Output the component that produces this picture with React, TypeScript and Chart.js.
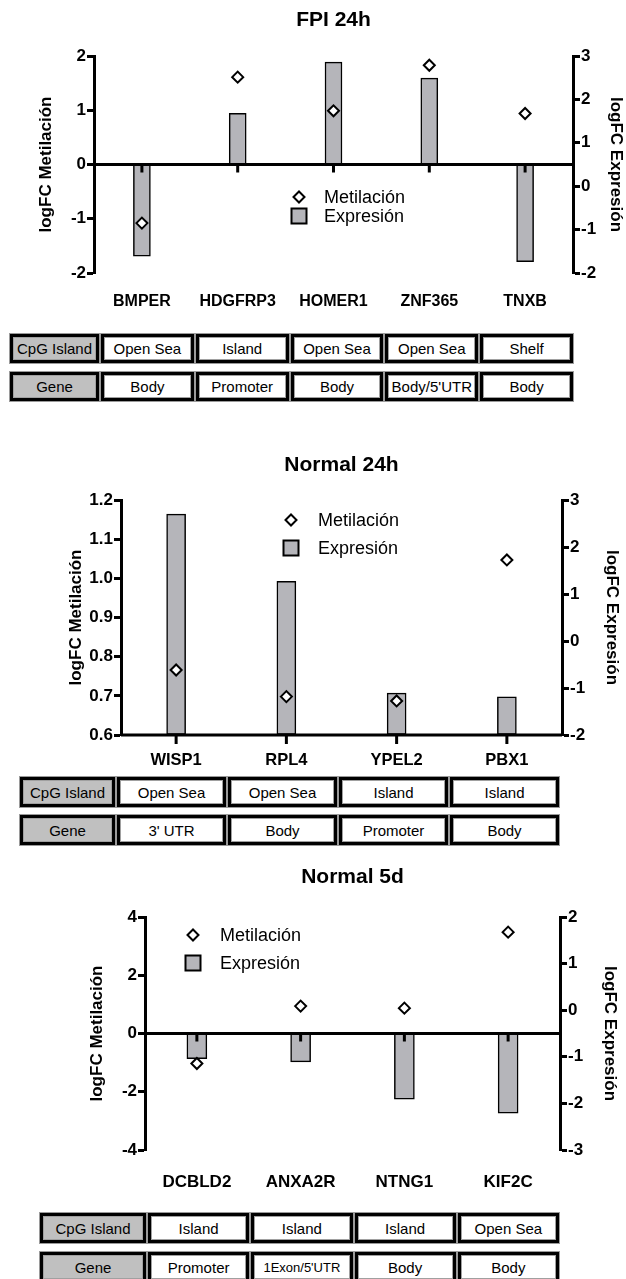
import React, { useEffect, useRef } from 'react';
import { Chart, registerables } from 'chart.js';

Chart.register(...registerables);

const FONT = '"Liberation Sans", Arial, Helvetica, sans-serif';
const BAR_FILL = '#b5b5ba';

// ---- FPI 24h ----
const fpiGenes = ['BMPER', 'HDGFRP3', 'HOMER1', 'ZNF365', 'TNXB'];
const fpiMetilacion = [-1.08, 1.61, 0.99, 1.83, 0.94];
const fpiExpresion = [-1.61, 1.68, 2.86, 2.49, -1.74];
const fpiMetTicks = [-2, -1, 0, 1, 2];
const fpiExpTicks = [-2, -1, 0, 1, 2, 3];
const fpiCpG = ['Open Sea', 'Island', 'Open Sea', 'Open Sea', 'Shelf'];
const fpiRegion = ['Body', 'Promoter', 'Body', "Body/5'UTR", 'Body'];

// ---- Normal 24h ----
const n24Genes = ['WISP1', 'RPL4', 'YPEL2', 'PBX1'];
const n24Metilacion = [0.766, 0.698, 0.687, 1.047];
const n24Expresion = [2.7, 1.27, -1.11, -1.19];
const n24MetTicks = [0.6, 0.7, 0.8, 0.9, 1.0, 1.1, 1.2];
const n24ExpTicks = [-2, -1, 0, 1, 2, 3];
const n24CpG = ['Open Sea', 'Open Sea', 'Island', 'Island'];
const n24Region = ["3' UTR", 'Body', 'Promoter', 'Body'];

// ---- Normal 5d ----
const n5Genes = ['DCBLD2', 'ANXA2R', 'NTNG1', 'KIF2C'];
const n5Metilacion = [-1.03, 0.94, 0.87, 3.48];
const n5Expresion = [-1.04, -1.11, -1.91, -2.21];
const n5MetTicks = [-4, -2, 0, 2, 4];
const n5ExpTicks = [-3, -2, -1, 0, 1, 2];
const n5CpG = ['Island', 'Island', 'Island', 'Open Sea'];
const n5Region = ['Promoter', "1Exon/5'UTR", 'Body', 'Body'];

const SERIES_MET = 'Metilación';
const SERIES_EXP = 'Expresión';
const AXIS_MET = 'logFC Metilación';
const AXIS_EXP = 'logFC Expresión';
const ROW_CPG = 'CpG Island';
const ROW_GENE = 'Gene';

type PanelData = {
  title: string;
  genes: string[];
  metilacion: number[];
  expresion: number[];
  metTicks: number[];
  expTicks: number[];
  metDecimals: number;
  baseline: number;
};

type PanelLayout = {
  top: number;
  height: number;
  left: number;
  right: number;
  plotBottom: number;
  titlePad: [number, number];
  leftTitlePad: number;
  rightTitlePad: number;
  labelPad: number;
  labelSize: number;
  barThickness: number;
  tickLen: number;
  legend: { x: number; y1: number; y2: number; textX: number };
};

const AXIS_W = 3;

// Horizontal category axis drawn at the methylation baseline, over the bars.
const categoryAxisPlugin = {
  id: 'categoryAxis',
  afterDatasetDraw(chart: any, args: any, opts: any) {
    if (args.meta.type !== 'bar') return;
    const { ctx, chartArea } = chart;
    const yL = chart.scales.yL;
    const x = chart.scales.x;
    const y = yL.getPixelForValue(opts.baseline);
    ctx.save();
    ctx.strokeStyle = '#000';
    ctx.lineWidth = AXIS_W;
    ctx.beginPath();
    ctx.moveTo(chartArea.left, y);
    ctx.lineTo(chartArea.right, y);
    ctx.stroke();
    for (let i = 0; i < chart.data.labels.length; i++) {
      const px = x.getPixelForValue(i);
      ctx.beginPath();
      ctx.moveTo(px, y);
      ctx.lineTo(px, y + opts.tickLen);
      ctx.stroke();
    }
    ctx.restore();
  },
};

// Legend placed inside the plot area.
const insetLegendPlugin = {
  id: 'insetLegend',
  afterDraw(chart: any, _args: any, opts: any) {
    const { ctx } = chart;
    const dsMet = chart.data.datasets[0];
    const dsExp = chart.data.datasets[1];
    ctx.save();
    ctx.font = `18px ${FONT}`;
    ctx.textBaseline = 'middle';
    ctx.textAlign = 'left';
    // diamond
    const r = 5.5;
    ctx.beginPath();
    ctx.moveTo(opts.x - r, opts.y1);
    ctx.lineTo(opts.x, opts.y1 - r);
    ctx.lineTo(opts.x + r, opts.y1);
    ctx.lineTo(opts.x, opts.y1 + r);
    ctx.closePath();
    ctx.fillStyle = '#fff';
    ctx.fill();
    ctx.lineWidth = 2;
    ctx.strokeStyle = '#000';
    ctx.stroke();
    ctx.fillStyle = '#000';
    ctx.fillText(dsMet.label, opts.textX, opts.y1 + 1);
    // square
    const s = 15;
    ctx.fillStyle = BAR_FILL;
    ctx.fillRect(opts.x - s / 2, opts.y2 - s / 2, s, s);
    ctx.strokeRect(opts.x - s / 2, opts.y2 - s / 2, s, s);
    ctx.fillStyle = '#000';
    ctx.fillText(dsExp.label, opts.textX, opts.y2 + 1);
    ctx.restore();
  },
};

function ChartPanel({ data, layout }: { data: PanelData; layout: PanelLayout }) {
  const ref = useRef<HTMLCanvasElement | null>(null);

  useEffect(() => {
    if (!ref.current) return;
    const metMin = data.metTicks[0];
    const metMax = data.metTicks[data.metTicks.length - 1];
    const expMin = data.expTicks[0];
    const expMax = data.expTicks[data.expTicks.length - 1];
    // bars grow from the category axis line
    const barBase = expMin + ((data.baseline - metMin) / (metMax - metMin)) * (expMax - expMin);

    const yCommon = {
      border: { display: true, color: '#000', width: AXIS_W },
      grid: {
        display: true,
        drawOnChartArea: false,
        drawTicks: true,
        tickLength: 7,
        tickWidth: AXIS_W,
        tickColor: '#000',
      },
    };
    const tickFont = { family: FONT, size: 17, weight: 'bold' };
    const axisTitleFont = { family: FONT, size: 17, weight: 'bold', lineHeight: 1 };

    const chart = new Chart(ref.current, {
      type: 'bar',
      data: {
        labels: data.genes,
        datasets: [
          {
            type: 'line',
            label: SERIES_MET,
            data: data.metilacion,
            yAxisID: 'yL',
            showLine: false,
            pointStyle: 'rectRot',
            pointRadius: 5.5,
            pointBorderWidth: 2,
            pointBackgroundColor: '#fff',
            pointBorderColor: '#000',
            order: 1,
            clip: false,
          } as any,
          {
            type: 'bar',
            label: SERIES_EXP,
            data: data.expresion,
            yAxisID: 'yR',
            base: barBase,
            backgroundColor: BAR_FILL,
            borderColor: '#000',
            borderWidth: 1.5,
            borderSkipped: false,
            barThickness: layout.barThickness,
            order: 2,
          } as any,
        ],
      },
      options: {
        responsive: false,
        animation: false,
        devicePixelRatio: 1,
        layout: { padding: 0 },
        events: [],
        plugins: {
          legend: { display: false },
          tooltip: { enabled: false },
          title: {
            display: true,
            text: data.title,
            fullSize: false,
            color: '#000',
            font: { family: FONT, size: 21, weight: 'bold' },
            padding: { top: layout.titlePad[0], bottom: layout.titlePad[1] },
          },
          categoryAxis: { baseline: data.baseline, tickLen: layout.tickLen },
          insetLegend: layout.legend,
        } as any,
        scales: {
          x: {
            type: 'category',
            position: 'bottom',
            grid: { display: false, drawTicks: false },
            border: { display: false },
            ticks: {
              color: '#000',
              autoSkip: false,
              maxRotation: 0,
              padding: layout.labelPad,
              font: { family: FONT, size: layout.labelSize, weight: 'bold' },
            },
            afterFit: (s: any) => {
              s.height = layout.height - layout.plotBottom;
            },
          },
          yL: {
            ...yCommon,
            type: 'linear',
            position: 'left',
            min: metMin,
            max: metMax,
            afterBuildTicks: (s: any) => {
              s.ticks = data.metTicks.map((v) => ({ value: v }));
            },
            ticks: {
              color: '#000',
              padding: 1,
              font: tickFont,
              callback: (v: any) => Number(v).toFixed(data.metDecimals),
            },
            title: {
              display: true,
              text: AXIS_MET,
              color: '#000',
              font: axisTitleFont,
              padding: { top: layout.leftTitlePad, bottom: 0 },
            },
            afterFit: (s: any) => {
              s.width = layout.left;
            },
          },
          yR: {
            ...yCommon,
            type: 'linear',
            position: 'right',
            min: expMin,
            max: expMax,
            afterBuildTicks: (s: any) => {
              s.ticks = data.expTicks.map((v) => ({ value: v }));
            },
            ticks: {
              color: '#000',
              padding: 1,
              font: tickFont,
              callback: (v: any) => String(v),
            },
            title: {
              display: true,
              text: AXIS_EXP,
              color: '#000',
              font: axisTitleFont,
              padding: { top: layout.rightTitlePad, bottom: 0 },
            },
            afterFit: (s: any) => {
              s.width = 626 - layout.right;
            },
          },
        } as any,
      },
      plugins: [categoryAxisPlugin, insetLegendPlugin],
    });
    return () => chart.destroy();
  }, [data, layout]);

  return (
    <canvas
      ref={ref}
      width={626}
      height={layout.height}
      style={{ position: 'absolute', left: 0, top: layout.top, width: 626, height: layout.height }}
    />
  );
}

type TableLayout = { rowTops: [number, number]; rowH: number; headLeft: number; headRight: number; right: number };

function Cell({ text, x, y, w, h, head }: { text: string; x: number; y: number; w: number; h: number; head?: boolean }) {
  return (
    <div
      style={{
        position: 'absolute',
        left: x,
        top: y,
        width: w,
        height: h,
        boxSizing: 'border-box',
        border: '3px solid #000',
        boxShadow: '0 0 0 1px #9a9a9a, inset 0 0 0 1px #a0a0a0',
        background: head ? '#c0c0c0' : '#fff',
        display: 'flex',
        alignItems: 'center',
        justifyContent: 'center',
        fontFamily: FONT,
        fontSize: text.length > 10 ? 13 : 15,
        color: '#000',
        whiteSpace: 'nowrap',
        overflow: 'hidden',
      }}
    >
      {text}
    </div>
  );
}

function AnnotationTable({ cpg, region, layout }: { cpg: string[]; region: string[]; layout: TableLayout }) {
  const gap = 2;
  const dataLeft = layout.headRight + gap;
  const n = cpg.length;
  const cw = (layout.right - dataLeft - gap * (n - 1)) / n;
  const rows = [
    { head: ROW_CPG, cells: cpg },
    { head: ROW_GENE, cells: region },
  ];
  return (
    <>
      {rows.map((row, r) => (
        <React.Fragment key={r}>
          <Cell
            text={row.head}
            head
            x={layout.headLeft}
            y={layout.rowTops[r]}
            w={layout.headRight - layout.headLeft}
            h={layout.rowH}
          />
          {row.cells.map((c, i) => (
            <Cell key={i} text={c} x={dataLeft + i * (cw + gap)} y={layout.rowTops[r]} w={cw} h={layout.rowH} />
          ))}
        </React.Fragment>
      ))}
    </>
  );
}

const fpiData: PanelData = {
  title: 'FPI 24h',
  genes: fpiGenes,
  metilacion: fpiMetilacion,
  expresion: fpiExpresion,
  metTicks: fpiMetTicks,
  expTicks: fpiExpTicks,
  metDecimals: 0,
  baseline: 0,
};
const n24Data: PanelData = {
  title: 'Normal 24h',
  genes: n24Genes,
  metilacion: n24Metilacion,
  expresion: n24Expresion,
  metTicks: n24MetTicks,
  expTicks: n24ExpTicks,
  metDecimals: 1,
  baseline: 0.6,
};
const n5Data: PanelData = {
  title: 'Normal 5d',
  genes: n5Genes,
  metilacion: n5Metilacion,
  expresion: n5Expresion,
  metTicks: n5MetTicks,
  expTicks: n5ExpTicks,
  metDecimals: 0,
  baseline: 0,
};

const fpiLayout: PanelLayout = {
  top: 0, height: 325, left: 94, right: 573, plotBottom: 273,
  titlePad: [7.4, 23.4], leftTitlePad: 37.5, rightTitlePad: 1.5,
  labelPad: 19.4, labelSize: 16, barThickness: 17, tickLen: 8,
  legend: { x: 299, y1: 197, y2: 216, textX: 324 },
};
const n24Layout: PanelLayout = {
  top: 440, height: 330, left: 121, right: 562, plotBottom: 295,
  titlePad: [12.4, 22.4], leftTitlePad: 67.5, rightTitlePad: 5.5,
  labelPad: 15.2, labelSize: 16.5, barThickness: 19, tickLen: 9,
  legend: { x: 291, y1: 80, y2: 108, textX: 318 },
};
const n5Layout: PanelLayout = {
  top: 860, height: 340, left: 145, right: 560, plotBottom: 290,
  titlePad: [4.4, 27.4], leftTitlePad: 88.5, rightTitlePad: 7.5,
  labelPad: 21.8, labelSize: 17, barThickness: 20, tickLen: 8,
  legend: { x: 193, y1: 75, y2: 103, textX: 220 },
};

const fpiTable: TableLayout = { rowTops: [334, 372], rowH: 29, headLeft: 10, headRight: 99, right: 573 };
const n24Table: TableLayout = { rowTops: [777, 815], rowH: 30, headLeft: 20, headRight: 115, right: 559 };
const n5Table: TableLayout = { rowTops: [1213, 1252], rowH: 30, headLeft: 40, headRight: 146, right: 559 };

export default function App() {
  return (
    <div style={{ position: 'absolute', left: 0, top: 0, width: 626, height: 1279, background: '#fff', overflow: 'hidden' }}>
      <ChartPanel data={fpiData} layout={fpiLayout} />
      <AnnotationTable cpg={fpiCpG} region={fpiRegion} layout={fpiTable} />
      <ChartPanel data={n24Data} layout={n24Layout} />
      <AnnotationTable cpg={n24CpG} region={n24Region} layout={n24Table} />
      <ChartPanel data={n5Data} layout={n5Layout} />
      <AnnotationTable cpg={n5CpG} region={n5Region} layout={n5Table} />
    </div>
  );
}
